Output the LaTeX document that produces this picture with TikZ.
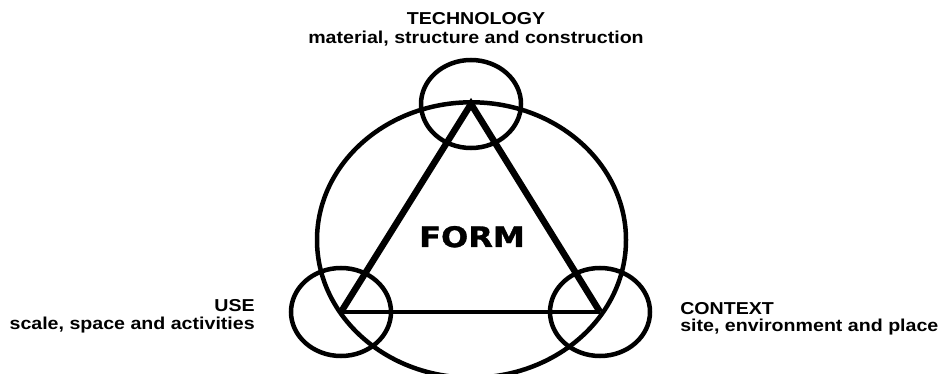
\documentclass[tikz,border=0pt]{standalone}
\usepackage{fontspec}
\usepackage{graphicx}
\usepackage{tikz}
\setmainfont{Liberation Sans}
\newfontfamily\formfont{DejaVu Sans}[BoldFeatures={FakeBold=1.2}]
\newcommand{\vsquash}[1]{\scalebox{1}[0.88]{#1}}

\tikzset{
  lbl/.style={inner sep=0pt,font=\fontsize{19.6}{16}\selectfont\bfseries},
  ring/.style={line width=4.5pt}
}

\begin{document}
\begin{tikzpicture}[x=1pt,y=-1pt,line width=4.5pt]
  \useasboundingbox (0,0) rectangle (940,374);
  \coordinate (M) at (471.5,240);
  \coordinate (T) at (471,104);
  \coordinate (U) at (341,312);
  \coordinate (C) at (600,312);

  \draw[ring] (M) ellipse [x radius=154.5pt,y radius=137.7pt];
  \draw[ring] (T) ellipse [x radius=50pt,y radius=44pt];
  \draw[ring] (U) ellipse [x radius=50pt,y radius=44pt];
  \draw[ring] (C) ellipse [x radius=50pt,y radius=44pt];

  \draw[line width=6.5pt,line join=miter] (U) -- (T) -- (C);
  \draw (U) -- (C);

  \node[inner sep=0pt,anchor=base] (form) at (472,247)
    {\vsquash{\formfont\fontsize{32}{32}\selectfont\bfseries FORM}};

  \node[lbl,anchor=base] (tech) at (476,25)
    {\vsquash{TECHNOLOGY}};
  \node[lbl,anchor=base] (techsub) at (476,44)
    {\vsquash{material, structure and construction}};
  \node[lbl,anchor=base east] (use) at (257,311)
    {\vsquash{USE}};
  \node[lbl,anchor=base east] (usesub) at (257,329)
    {\vsquash{scale, space and activities}};
  \node[lbl,anchor=base west] (ctx) at (678,314)
    {\vsquash{CONTEXT}};
  \node[lbl,anchor=base west] (ctxsub) at (678,331)
    {\vsquash{site, environment and place}};
\end{tikzpicture}
\end{document}
